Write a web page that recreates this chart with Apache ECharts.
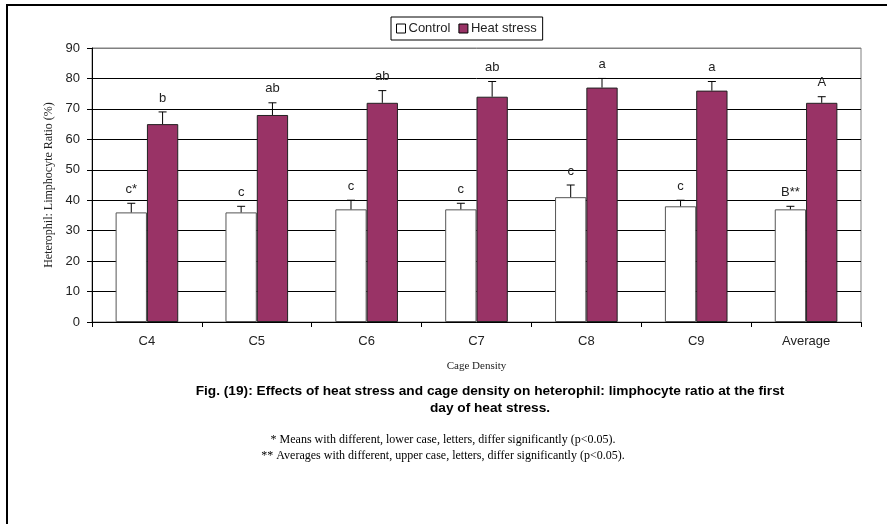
<!DOCTYPE html>
<html>
<head>
<meta charset="utf-8">
<title>Heterophil : Limphocyte ratio</title>
<script src="https://cdn.jsdelivr.net/npm/echarts@6/dist/echarts.min.js"></script>
<style>
  html, body { margin: 0; padding: 0; background: #fff; }
  #main { width: 887px; height: 524px; }
</style>
</head>
<body>
<div id="main"></div>
<script>
var categories = ['C4', 'C5', 'C6', 'C7', 'C8', 'C9', 'Average'];
var controlMean = [36, 36, 37, 37, 41, 38, 37];
var controlErr = [3, 2, 3, 2, 4, 2, 1];
var heatMean = [65, 68, 72, 74, 77, 76, 72];
var heatErr = [4, 4, 4, 5, 3, 3, 2];
var controlLetters = ['c*', 'c', 'c', 'c', 'c', 'c', 'B**'];
var heatLetters = ['b', 'ab', 'ab', 'ab', 'a', 'a', 'A'];
var yTicks = [0, 10, 20, 30, 40, 50, 60, 70, 80, 90];

var SANS = '"Liberation Sans", Arial, sans-serif';
var SERIF = '"Liberation Serif", "Times New Roman", serif';
var CAT_GAP = 0.43;

// error bar + significance letter, drawn on top of each bar
function errorBar(side, letters) {
  return function (params, api) {
    var i = api.value(0);
    var mean = api.value(1);
    var err = api.value(2);
    var band = api.size([1, 0])[0];
    var off = side * band * (1 - CAT_GAP) / 4;
    var base = api.coord([i, mean]);
    var top = api.coord([i, mean + err]);
    var x = base[0] + off;
    var lineStyle = { stroke: '#000', lineWidth: 1 };
    return {
      type: 'group',
      children: [
        { type: 'line', shape: { x1: x, y1: base[1], x2: x, y2: top[1] }, style: lineStyle },
        { type: 'line', shape: { x1: x - 4, y1: top[1], x2: x + 4, y2: top[1] }, style: lineStyle },
        {
          type: 'text',
          style: {
            text: letters[i], x: x, y: top[1] - 14,
            align: 'center', verticalAlign: 'middle',
            font: '13px ' + SANS, fill: '#222'
          }
        }
      ]
    };
  };
}

function errData(mean, err) {
  return mean.map(function (v, i) { return [i, v, err[i]]; });
}

var chart = echarts.init(document.getElementById('main'));

var option = {
  backgroundColor: '#fff',
  animation: false,
  title: [{
    text: 'Fig. (19): Effects of heat stress and cage density on heterophil: limphocyte ratio at the first\nday of heat stress.',
    left: 485, top: 378, textAlign: 'center',
    textStyle: { fontFamily: SANS, fontSize: 13.7, fontWeight: 'bold', color: '#000', lineHeight: 17, align: 'center' }
  }, {
    text: '* Means with different, lower case, letters, differ significantly (p<0.05).\n** Averages with different, upper case, letters, differ significantly (p<0.05).',
    left: 438, top: 427, textAlign: 'center',
    textStyle: { fontFamily: SERIF, fontSize: 12, fontWeight: 'normal', color: '#000', lineHeight: 16, align: 'center' }
  }],
  legend: {
    left: 391, top: 17,
    orient: 'horizontal',
    borderColor: '#000', borderWidth: 1,
    padding: [5, 6, 5, 5],
    itemWidth: 9, itemHeight: 9, itemGap: 8,
    icon: 'rect',
    textStyle: { fontFamily: SANS, fontSize: 13, color: '#222', padding: [0, 0, 0, -2] },
    data: [
      { name: 'Control', itemStyle: { color: '#fff', borderColor: '#000', borderWidth: 1 } },
      { name: 'Heat stress', itemStyle: { color: '#993366', borderColor: '#000', borderWidth: 1 } }
    ]
  },
  grid: { left: 92, right: 26, top: 48, bottom: 202, show: true, borderColor: '#808080', borderWidth: 1 },
  xAxis: {
    type: 'category',
    data: categories,
    name: 'Cage Density',
    nameLocation: 'middle',
    nameGap: 39,
    nameTextStyle: { fontFamily: SERIF, fontSize: 11, color: '#222' },
    axisLine: { lineStyle: { color: '#000', width: 1 } },
    axisTick: { show: true, interval: 0, length: 5, lineStyle: { color: '#000' } },
    axisLabel: { fontFamily: SANS, fontSize: 13, color: '#222', margin: 13 },
    splitLine: { show: false }
  },
  yAxis: {
    type: 'value',
    min: yTicks[0], max: yTicks[yTicks.length - 1], interval: 10,
    name: 'Heterophil: Limphocyte Ratio (%)',
    nameLocation: 'middle',
    nameGap: 34,
    nameTextStyle: { fontFamily: SERIF, fontSize: 12, color: '#222' },
    axisLine: { show: true, lineStyle: { color: '#000', width: 1 } },
    axisTick: { show: true, length: 5, lineStyle: { color: '#000' } },
    axisLabel: { fontFamily: SANS, fontSize: 13, color: '#222', margin: 12 },
    splitLine: {
      show: true,
      lineStyle: {
        width: 1,
        color: yTicks.map(function (t, i) { return i === yTicks.length - 1 ? '#808080' : '#000'; })
      }
    }
  },
  series: [{
    name: 'Control',
    type: 'bar',
    data: controlMean,
    barGap: '0%',
    barCategoryGap: (CAT_GAP * 100) + '%',
    itemStyle: { color: '#fff', borderColor: '#555', borderWidth: 1 }
  }, {
    name: 'Heat stress',
    type: 'bar',
    data: heatMean,
    barGap: '0%',
    barCategoryGap: (CAT_GAP * 100) + '%',
    itemStyle: { color: '#993366', borderColor: '#222', borderWidth: 1 }
  }, {
    name: 'controlErr',
    type: 'custom',
    renderItem: errorBar(-1, controlLetters),
    data: errData(controlMean, controlErr),
    encode: { x: 0, y: 1 },
    z: 5
  }, {
    name: 'heatErr',
    type: 'custom',
    renderItem: errorBar(1, heatLetters),
    data: errData(heatMean, heatErr),
    encode: { x: 0, y: 1 },
    z: 5
  }],
  graphic: [
    { type: 'line', shape: { x1: 7, y1: 5, x2: 7, y2: 524 }, style: { stroke: '#000', lineWidth: 2 } },
    { type: 'line', shape: { x1: 6, y1: 5, x2: 887, y2: 5 }, style: { stroke: '#000', lineWidth: 2 } }
  ]
};

chart.setOption(option);
</script>
</body>
</html>
